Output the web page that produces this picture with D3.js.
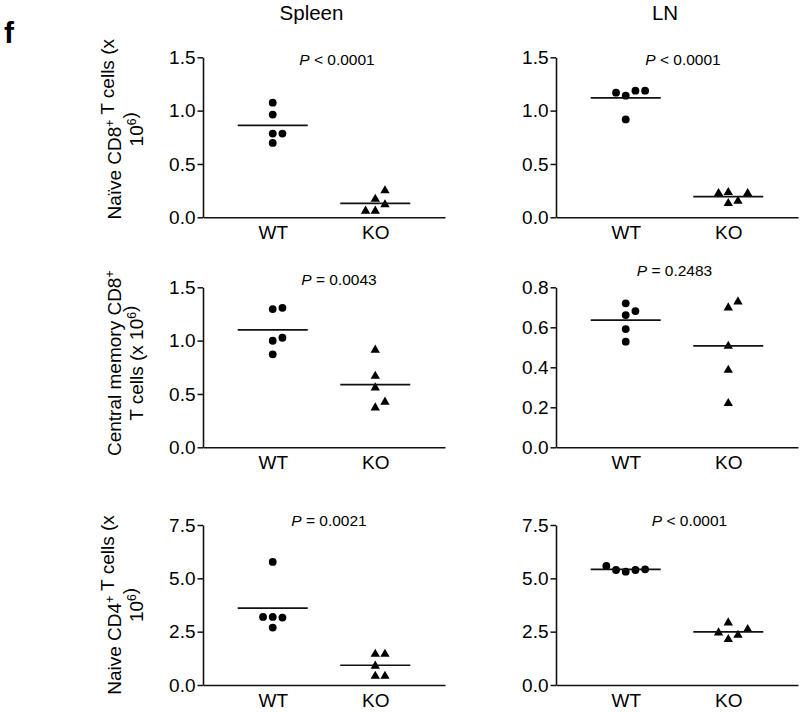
<!DOCTYPE html>
<html><head><meta charset="utf-8">
<script src="https://cdn.jsdelivr.net/npm/d3@7"></script>
<style>
body{margin:0;background:#fff}
svg text{font-family:"Liberation Sans",Arial,Helvetica,sans-serif;fill:#000}
</style>
</head><body>
<svg id="c" width="800" height="712"></svg>
<script>
// ---------------- data ----------------
const groups = ["WT", "KO"];
const tissues = ["Spleen", "LN"];
const panelLetter = "f";

// Row 1: naive CD8+ T cells (x10^6)
const naiveCD8SpleenWT = [1.075, 0.963, 0.785, 0.785, 0.697];
const naiveCD8SpleenKO = [0.17, 0.25, 0.119, 0.059, 0.059];
const naiveCD8LnWT = [1.14, 1.187, 1.168, 1.187, 0.918];
const naiveCD8LnKO = [0.234, 0.152, 0.225, 0.225, 0.131];
// Row 2: central memory CD8+ T cells (x10^6)
const cmCD8SpleenWT = [1.296, 1.308, 0.999, 1.027, 0.872];
const cmCD8SpleenKO = [0.912, 0.668, 0.559, 0.371, 0.425];
const cmCD8LnWT = [0.72, 0.661, 0.681, 0.591, 0.528];
const cmCD8LnKO = [0.698, 0.728, 0.506, 0.386, 0.22];
// Row 3: naive CD4+ T cells (x10^6)
const naiveCD4SpleenWT = [5.77, 3.19, 3.16, 3.19, 2.69];
const naiveCD4SpleenKO = [1.45, 1.45, 0.89, 0.42, 0.42];
const naiveCD4LnWT = [5.31, 5.39, 5.39, 5.42, 5.58];
const naiveCD4LnKO = [2.92, 2.14, 2.34, 2.45, 2.61];

const pSpleen = ["< 0.0001", "= 0.0043", "= 0.0021"];
const pLn = ["< 0.0001", "= 0.2483", "< 0.0001"];

const yMaxSpleen = [1.5, 1.5, 7.5];
const yMaxLn = [1.5, 0.8, 7.5];
const yTicksSpleen = [[0, 0.5, 1.0, 1.5], [0, 0.5, 1.0, 1.5], [0, 2.5, 5.0, 7.5]];
const yTicksLn = [[0, 0.5, 1.0, 1.5], [0, 0.2, 0.4, 0.6, 0.8], [0, 2.5, 5.0, 7.5]];

const yTitles = [
  ["Naïve CD8^+ T cells (x", "10^6)"],
  ["Central memory CD8^+", "T cells (x 10^6)"],
  ["Naive CD4^+ T cells (x", "10^6)"]
];

const spleenValues = [[naiveCD8SpleenWT, naiveCD8SpleenKO], [cmCD8SpleenWT, cmCD8SpleenKO], [naiveCD4SpleenWT, naiveCD4SpleenKO]];
const lnValues = [[naiveCD8LnWT, naiveCD8LnKO], [cmCD8LnWT, cmCD8LnKO], [naiveCD4LnWT, naiveCD4LnKO]];

// ---------------- layout ----------------
const rowTops = [57.3, 287.3, 525];
const plotH = 160;
const colLefts = [203, 556];
const plotW = 242;
const titleX = [311.5, 665];
const titleOffset = [-8, -4, 0];
const pPos = [
  [[134, 7.7], [127, 7.7]],
  [[136, -2.3], [118.5, -11.3]],
  [[126, 0.7], [133.5, 0.7]]
];
const slotW = 9.7;
const minDy = 9;

const svg = d3.select("#c");

svg.append("text").attr("x", 4).attr("y", 43)
  .style("font-size", "30px").style("font-weight", "bold").text(panelLetter);

tissues.forEach((t, c) => {
  svg.append("text").attr("x", titleX[c]).attr("y", 19.5)
    .attr("text-anchor", "middle").style("font-size", "20.5px").text(t);
});

function addRich(sel, str) {
  const parts = str.split(/\^(.)/);
  parts.forEach((p, i) => {
    if (p === "") return;
    if (i % 2 === 1) {
      sel.append("tspan").attr("dy", -7).style("font-size", "12px").text(p);
      sel.append("tspan").attr("dy", 7).text("");
    } else {
      sel.append("tspan").text(p);
    }
  });
}

function swarm(vals, y) {
  const placed = [];
  const order = [0, 1, -1, 2, -2, 3, -3];
  return vals.map(v => {
    const py = y(v);
    for (const s of order) {
      if (!placed.some(p => p.s === s && Math.abs(p.y - py) < minDy)) {
        placed.push({ s, y: py });
        return { v, s, y: py };
      }
    }
    return { v, s: 0, y: py };
  });
}

const triangle = d3.symbol().type(d3.symbolTriangle).size(38);

for (let r = 0; r < 3; r++) {
  for (let c = 0; c < 2; c++) {
    const vals = c === 0 ? spleenValues[r] : lnValues[r];
    const yMax = c === 0 ? yMaxSpleen[r] : yMaxLn[r];
    const ticks = c === 0 ? yTicksSpleen[r] : yTicksLn[r];
    const pTxt = c === 0 ? pSpleen[r] : pLn[r];
    const g = svg.append("g").attr("transform", `translate(${colLefts[c]},${rowTops[r]})`);
    const y = d3.scaleLinear().domain([0, yMax]).range([plotH, 0]);
    const x = d3.scalePoint().domain(groups).range([0, plotW]).padding(0.68);

    const ya = g.append("g").call(d3.axisLeft(y).tickValues(ticks).tickFormat(d3.format(".1f"))
      .tickSize(5.5).tickSizeOuter(0).tickPadding(2));
    ya.select(".domain").attr("stroke", "#111").attr("stroke-width", 1.6);
    ya.selectAll(".tick line").attr("stroke", "#111").attr("stroke-width", 1.5);
    ya.selectAll("text").style("font-size", "19px").attr("fill", "#000");

    const xa = g.append("g").attr("transform", `translate(0,${plotH})`)
      .call(d3.axisBottom(x).tickSize(0).tickSizeOuter(0).tickPadding(8.5));
    xa.select(".domain").attr("stroke", "#111").attr("stroke-width", 1.6);
    xa.selectAll("text").style("font-size", "19px").attr("fill", "#000");

    groups.forEach((grp, gi) => {
      const pts = swarm(vals[gi], y);
      const cx = x(grp);
      if (gi === 0) {
        g.selectAll(null).data(pts).enter().append("circle")
          .attr("cx", d => cx + d.s * slotW).attr("cy", d => d.y).attr("r", 3.9).attr("fill", "#000");
      } else {
        g.selectAll(null).data(pts).enter().append("path")
          .attr("d", triangle)
          .attr("transform", d => `translate(${cx + d.s * slotW},${d.y})`).attr("fill", "#000");
      }
      const m = d3.mean(vals[gi]);
      g.append("line").attr("x1", cx - 35).attr("x2", cx + 35)
        .attr("y1", y(m)).attr("y2", y(m)).attr("stroke", "#111").attr("stroke-width", 1.7);
    });

    const pt = g.append("text").attr("x", pPos[r][c][0]).attr("y", pPos[r][c][1])
      .attr("text-anchor", "middle").style("font-size", "15.5px");
    pt.append("tspan").style("font-style", "italic").text("P");
    pt.append("tspan").text(" " + pTxt);

    if (c === 0) {
      const cy = rowTops[r] + plotH / 2 + titleOffset[r];
      const baseX = [121, 142.5];
      yTitles[r].forEach((line, li) => {
        const tt = svg.append("text").attr("transform", `rotate(-90)`)
          .attr("x", -cy).attr("y", baseX[li]).attr("text-anchor", "middle").style("font-size", "19px");
        addRich(tt, line);
      });
    }
  }
}
</script>
</body></html>
